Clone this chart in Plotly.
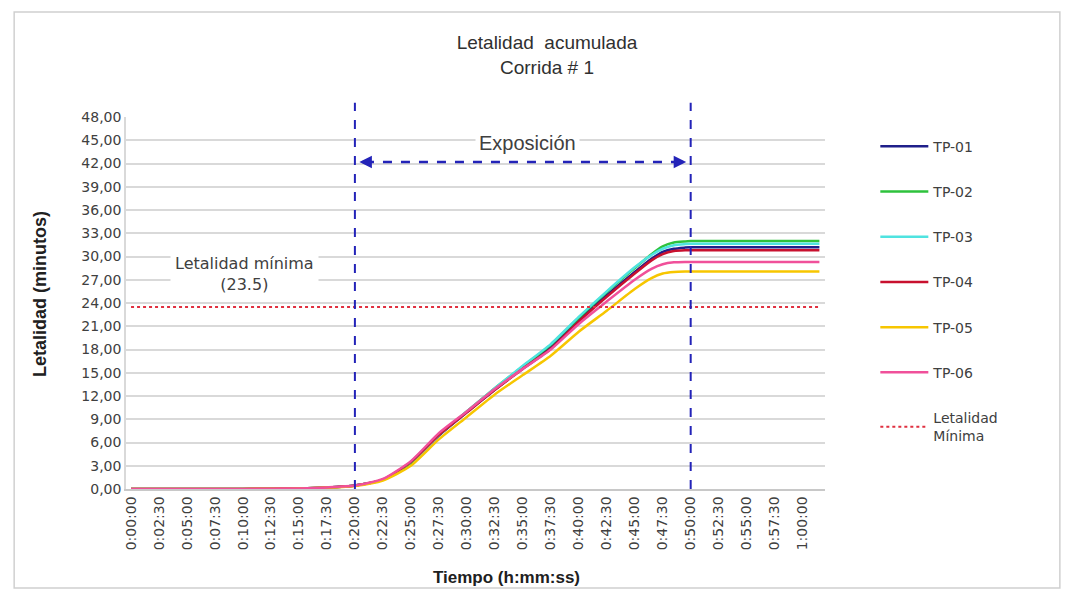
import plotly.graph_objects as go

# ---- data ----
times_min = [0, 2.5, 5, 7.5, 10, 12.5, 15, 17.5, 20, 22.5, 25, 27.5, 30, 32.5, 35,
             37.5, 40, 42.5, 45, 46.5, 47.5, 48.5, 49.5, 50, 52.5, 55, 57.5, 60, 61.5]

tp01 = [0, 0, 0, 0, 0.01, 0.03, 0.08, 0.2, 0.45, 1.2, 3.4, 6.9, 9.9, 12.8, 15.6,
        18.3, 21.8, 25.0, 28.0, 29.7, 30.6, 31.0, 31.15, 31.2, 31.2, 31.2, 31.2, 31.2, 31.2]
tp02 = [0, 0, 0, 0, 0.01, 0.03, 0.08, 0.2, 0.45, 1.2, 3.4, 7.0, 10.0, 13.0, 15.8,
        18.6, 22.1, 25.4, 28.5, 30.3, 31.3, 31.8, 31.95, 32.0, 32.0, 32.0, 32.0, 32.0, 32.0]
tp03 = [0, 0, 0, 0, 0.01, 0.03, 0.08, 0.2, 0.45, 1.2, 3.5, 7.0, 10.0, 13.0, 15.9,
        18.7, 22.2, 25.5, 28.6, 30.2, 31.0, 31.45, 31.6, 31.65, 31.65, 31.65, 31.65, 31.65, 31.65]
tp04 = [0, 0, 0, 0, 0.01, 0.03, 0.08, 0.2, 0.45, 1.2, 3.5, 7.0, 9.9, 12.8, 15.5,
        18.1, 21.6, 24.8, 27.8, 29.5, 30.3, 30.7, 30.8, 30.8, 30.8, 30.8, 30.8, 30.8, 30.8]
tp05 = [0, 0, 0, 0, 0.01, 0.03, 0.07, 0.18, 0.4, 1.1, 3.0, 6.4, 9.3, 12.2, 14.7,
        17.2, 20.3, 23.0, 25.8, 27.2, 27.8, 28.0, 28.05, 28.05, 28.05, 28.05, 28.05, 28.05, 28.05]
tp06 = [0, 0, 0, 0, 0.01, 0.03, 0.08, 0.2, 0.45, 1.3, 3.6, 7.2, 10.0, 12.9, 15.5,
        18.0, 21.3, 24.2, 27.0, 28.4, 29.0, 29.25, 29.3, 29.3, 29.3, 29.3, 29.3, 29.3, 29.3]

series_names = ["TP-01", "TP-02", "TP-03", "TP-04", "TP-05", "TP-06"]
series_values = [tp01, tp02, tp03, tp04, tp05, tp06]
series_colors = ["#1f1f8a", "#2ec23c", "#4fe3e0", "#c8102e", "#f7c600", "#f0509a"]

letalidad_minima = 23.5
exposure_start = 20
exposure_end = 50

tick_vals = [i * 2.5 for i in range(25)]
tick_text = ["0:00:00", "0:02:30", "0:05:00", "0:07:30", "0:10:00", "0:12:30", "0:15:00",
             "0:17:30", "0:20:00", "0:22:30", "0:25:00", "0:27:30", "0:30:00", "0:32:30",
             "0:35:00", "0:37:30", "0:40:00", "0:42:30", "0:45:00", "0:47:30", "0:50:00",
             "0:52:30", "0:55:00", "0:57:30", "1:00:00"]
y_ticks = [i * 3 for i in range(17)]

fig = go.Figure()
for i, (name, vals, col) in enumerate(zip(series_names, series_values, series_colors)):
    fig.add_trace(go.Scatter(x=times_min, y=vals, mode="lines", name=name,
                             line=dict(color=col, width=2.5, shape="spline", smoothing=0.6),
                             legendgroup=name))

fig.add_trace(go.Scatter(x=[times_min[0], times_min[-1]], y=[letalidad_minima] * 2,
                         mode="lines", name="Letalidad<br>Mínima",
                         line=dict(color="#e03040", width=2, dash="dot"),
                         legendgroup="min"))

line_blue = "#2323b8"
shapes = []
for xv in [exposure_start, exposure_end]:
    shapes.append(dict(type="line", xref="x", yref="paper", x0=xv, x1=xv, y0=0, y1=1.038,
                       line=dict(color=line_blue, width=2, dash="dash")))
# arrow shaft
shapes.append(dict(type="line", xref="x", yref="y", x0=20.9, x1=49.1, y0=42.2, y1=42.2,
                   line=dict(color=line_blue, width=2.5, dash="dash")))
# outer frame
shapes.append(dict(type="rect", xref="paper", yref="paper", x0=-0.160, x1=1.336,
                   y0=-0.266, y1=1.282, line=dict(color="#d0d0d0", width=1.5),
                   layer="below"))

axis_font = dict(family="Liberation Sans, Arial", size=17, color="#202020")
annotations = [
    dict(x=20.4, y=42.2, ax=21.6, ay=42.2, xref="x", yref="y", axref="x", ayref="y",
         text="", showarrow=True, arrowhead=2, arrowsize=1, arrowwidth=2.5,
         arrowcolor=line_blue),
    dict(x=49.6, y=42.2, ax=48.4, ay=42.2, xref="x", yref="y", axref="x", ayref="y",
         text="", showarrow=True, arrowhead=2, arrowsize=1, arrowwidth=2.5,
         arrowcolor=line_blue),
    dict(x=35.4, y=44.6, xref="x", yref="y", text="Exposición", showarrow=False,
         font=dict(family="Liberation Sans, Arial", size=20, color="#404040"),
         bgcolor="white", borderpad=3),
    dict(x=10.1, y=27.7, xref="x", yref="y", text="Letalidad mínima<br>(23.5)",
         showarrow=False, font=dict(family="DejaVu Sans, Verdana", size=16, color="#404040"),
         bgcolor="white", borderpad=4),
    # axis titles
    dict(x=-0.123, y=0.524, xref="paper", yref="paper", text="<b>Letalidad (minutos)</b>",
         textangle=-90, showarrow=False, font=dict(family="Liberation Sans, Arial", size=18,
                                                   color="#202020"),
         xanchor="center", yanchor="middle"),
    dict(x=0.544, y=-0.239, xref="paper", yref="paper", text="<b>Tiempo (h:mm:ss)</b>",
         showarrow=False, font=axis_font, xanchor="center", yanchor="middle"),
]

fig.update_layout(
    width=1061, height=584,
    paper_bgcolor="white", plot_bgcolor="white",
    margin=dict(l=118, r=244, t=109, b=103),
    separators=",.",
    title=dict(text="Letalidad  acumulada<br>Corrida # 1", x=0.508, xanchor="center",
               y=0.93, yanchor="top",
               font=dict(family="Liberation Sans, Arial", size=19, color="#303030")),
    showlegend=True,
    legend=dict(x=1.072, y=0.963, xanchor="left", yanchor="top",
                font=dict(family="DejaVu Sans, Verdana", size=14, color="#404040"),
                tracegroupgap=24, itemwidth=48, bgcolor="rgba(0,0,0,0)"),
    shapes=shapes,
    annotations=annotations,
)

fig.update_xaxes(range=[-0.45, 62], tickmode="array", tickvals=tick_vals, ticktext=tick_text,
                 tickangle=-90, showgrid=False, zeroline=False, showline=True,
                 linecolor="#c8c8c8", linewidth=1.5, automargin=False,
                 tickfont=dict(family="DejaVu Sans, Verdana", size=14, color="#404040"))
fig.update_yaxes(range=[0, 48], tickmode="array", tickvals=y_ticks, tickformat=".2f",
                 showgrid=True, gridcolor="#d9d9d9", gridwidth=1.5, zeroline=False,
                 showline=True, linecolor="#d9d9d9", linewidth=1.5, automargin=False,
                 tickfont=dict(family="DejaVu Sans, Verdana", size=14, color="#404040"))

fig.write_html("out.html")
